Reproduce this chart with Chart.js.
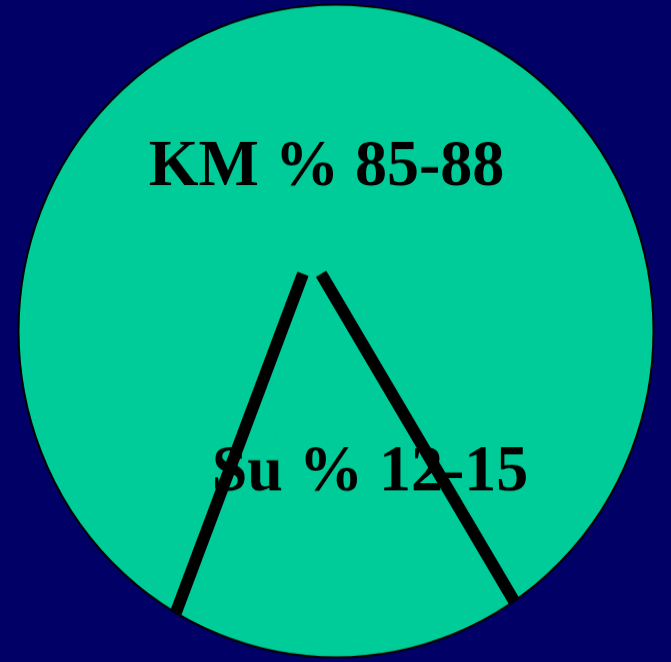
<!DOCTYPE html>
<html>
<head>
<meta charset="utf-8">
<script src="https://cdn.jsdelivr.net/npm/chart.js@4/dist/chart.umd.min.js"></script>
<style>
    html, body { margin: 0; padding: 0; background: #000066; }
</style>
</head>
<body>
<!-- the original circle is a little taller than wide, so the canvas is stretched a bit -->
<canvas id="pieChart" width="671" height="644" style="display:block;width:671px;height:662px"></canvas>
<script>
// data
const categories = ['KM', 'Su'];
const labelTexts = ['KM % 85-88', 'Su % 12-15'];
const shares = [82.1, 17.9];   // slice sizes as drawn

const green = '#00CC99';

// draws the labels, the outer outline and the two thick strokes of the Su wedge
const slideMarks = {
    id: 'slideMarks',
    afterDatasetsDraw(chart, args, opts) {
        const ctx = chart.ctx;
        const arcs = chart.getDatasetMeta(0).data;
        const km = arcs[0], su = arcs[1];
        const cx = km.x, cy = km.y, r = km.outerRadius;

        ctx.save();
        // outer outline
        ctx.beginPath();
        ctx.arc(cx, cy, r, 0, Math.PI * 2);
        ctx.lineWidth = 2;
        ctx.strokeStyle = '#000';
        ctx.stroke();

        // labels
        ctx.fillStyle = '#000';
        ctx.font = 'bold 64px "Liberation Serif", "Times New Roman", serif';
        ctx.textAlign = 'center';
        ctx.textBaseline = 'alphabetic';
        opts.labelPos.forEach((p, i) => {
            ctx.fillText(labelTexts[i], cx + p[0] * r, cy + p[1] * r);
        });

        // wedge strokes: from an apex above the centre to the ends of the Su arc
        ctx.lineWidth = 12;
        ctx.lineCap = 'butt';
        const ends = [su.endAngle, su.startAngle];
        opts.apex.forEach((a, i) => {
            ctx.beginPath();
            ctx.moveTo(cx + a[0] * r, cy + a[1] * r);
            ctx.lineTo(cx + Math.cos(ends[i]) * r, cy + Math.sin(ends[i]) * r);
            ctx.stroke();
        });
        ctx.restore();
    }
};

new Chart(document.getElementById('pieChart'), {
    type: 'pie',
    data: {
        labels: categories,
        datasets: [{
            data: shares,
            backgroundColor: [green, green],
            borderColor: green,
            borderWidth: 1
        }]
    },
    options: {
        responsive: false,
        animation: false,
        rotation: 210.3,
        layout: { padding: { left: 18, right: 17, top: 4, bottom: 4 } },
        plugins: {
            legend: { display: false },
            tooltip: { enabled: false },
            slideMarks: {
                labelPos: [[-0.03, -0.447], [0.107, 0.489]],
                apex: [[-0.104, -0.175], [-0.047, -0.175]]
            }
        }
    },
    plugins: [slideMarks]
});
</script>
</body>
</html>
